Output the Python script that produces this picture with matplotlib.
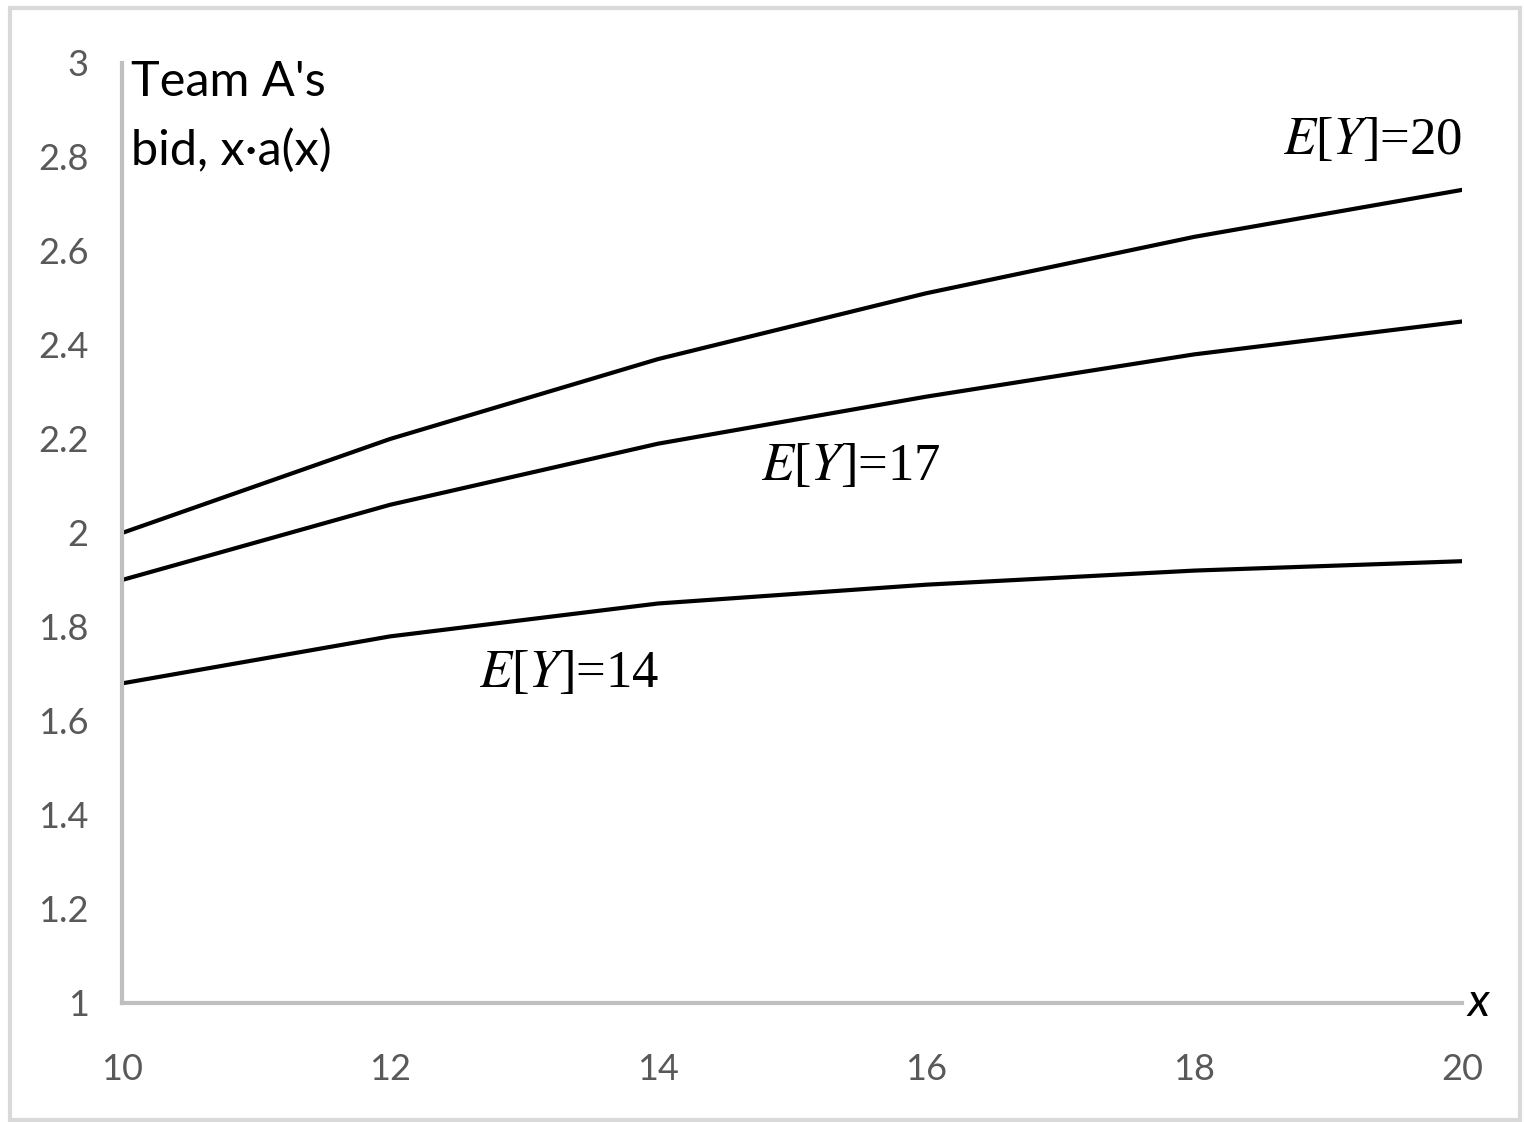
import matplotlib
matplotlib.use('Agg')
import matplotlib.pyplot as plt
from matplotlib.patches import Rectangle

x = [10, 12, 14, 16, 18, 20]
bid_ey20 = [2.00, 2.20, 2.37, 2.51, 2.63, 2.73]
bid_ey17 = [1.90, 2.06, 2.19, 2.29, 2.38, 2.45]
bid_ey14 = [1.68, 1.78, 1.85, 1.89, 1.92, 1.94]
xticks = [10, 12, 14, 16, 18, 20]
yticks = [1, 1.2, 1.4, 1.6, 1.8, 2, 2.2, 2.4, 2.6, 2.8, 3]
ytick_labels = ['1', '1.2', '1.4', '1.6', '1.8', '2', '2.2', '2.4', '2.6', '2.8', '3']

plt.rcParams['mathtext.fontset'] = 'stix'
sans = 'Lato'
serif = 'Liberation Serif'

fig = plt.figure(figsize=(15.24, 11.22), dpi=100)
# light grey frame round the whole chart
fig.patches.append(Rectangle((10/1524, 2/1122), 1510/1524, 1112/1122, transform=fig.transFigure,
                             fill=False, edgecolor='#d9d9d9', linewidth=3))
ax = fig.add_axes([122/1524, 1 - 1003/1122, 1340/1524, 940/1122])

ax.plot(x, bid_ey20, color='k', linewidth=3)
ax.plot(x, bid_ey17, color='k', linewidth=3)
ax.plot(x, bid_ey14, color='k', linewidth=3)

ax.set_xlim(10, 20)
ax.set_ylim(1, 3)
ax.set_xticks(xticks)
ax.set_xticklabels([str(t) for t in xticks], fontfamily=sans, fontsize=26, color='#595959')
ax.set_yticks(yticks)
ax.set_yticklabels(ytick_labels, fontfamily=sans, fontsize=26, color='#595959')
ax.tick_params(length=0, pad=24)
ax.tick_params(axis='x', pad=36)
for s in ['top', 'right']:
    ax.spines[s].set_visible(False)
for s in ['left', 'bottom']:
    ax.spines[s].set_color('#bfbfbf')
    ax.spines[s].set_linewidth(3)

ax.text(0.007, 1.003, "Team A's\nbid, x\u00b7a(x)", transform=ax.transAxes, ha='left', va='top',
        fontfamily=sans, fontsize=35, color='k', linespacing=1.65)
ax.text(1.004, 0.0, 'x', transform=ax.transAxes, ha='left', va='center',
        fontfamily=sans, fontstyle='italic', fontsize=34, color='k')

ax.text(20, 2.835, '$E$[$Y$]=20', ha='right', va='center', fontfamily=serif, fontsize=38)
ax.text(15.44, 2.14, '$E$[$Y$]=17', ha='center', va='center', fontfamily=serif, fontsize=38)
ax.text(13.34, 1.70, '$E$[$Y$]=14', ha='center', va='center', fontfamily=serif, fontsize=38)

fig.savefig('out.png', dpi=100)
